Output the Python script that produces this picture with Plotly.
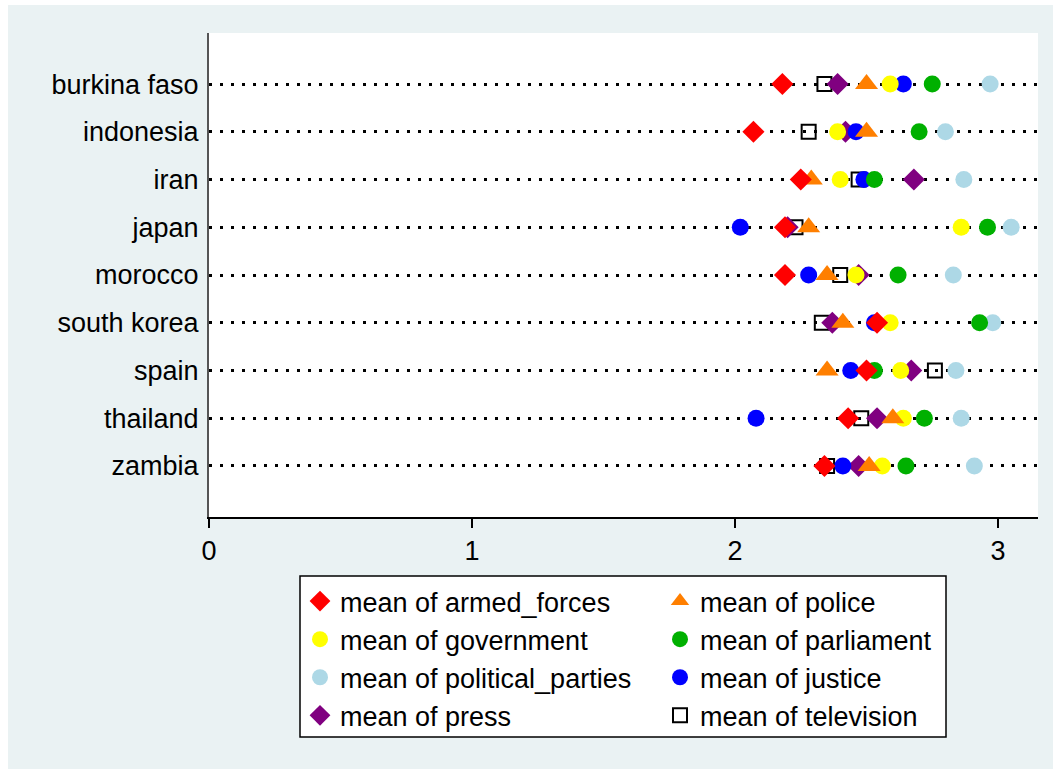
import plotly.graph_objects as go

# Countries, top to bottom
countries = ["burkina faso", "indonesia", "iran", "japan", "morocco",
             "south korea", "spain", "thailand", "zambia"]

# Mean confidence scores per institution
armed_forces = [2.18, 2.07, 2.25, 2.19, 2.19, 2.54, 2.50, 2.43, 2.34]
police = [2.50, 2.50, 2.29, 2.28, 2.35, 2.41, 2.35, 2.60, 2.51]
government = [2.59, 2.39, 2.40, 2.86, 2.46, 2.59, 2.63, 2.64, 2.56]
parliament = [2.75, 2.70, 2.53, 2.96, 2.62, 2.93, 2.53, 2.72, 2.65]
political_parties = [2.97, 2.80, 2.87, 3.05, 2.83, 2.98, 2.84, 2.86, 2.91]
justice = [2.64, 2.46, 2.49, 2.02, 2.28, 2.53, 2.44, 2.08, 2.41]
press = [2.39, 2.42, 2.68, 2.20, 2.47, 2.37, 2.67, 2.54, 2.47]
television = [2.34, 2.28, 2.47, 2.23, 2.40, 2.33, 2.76, 2.48, 2.35]

x_ticks = [0, 1, 2, 3]

FONT = "Liberation Sans, Arial, sans-serif"
FS = 27
BG = "#EAF2F3"

# (name, values, symbol, color, size, legend, rank) -- drawn in this order,
# so armed_forces ends up on top
series = [
    ("mean of television", television, "square-open", "black", 14, "legend2", 4),
    ("mean of press", press, "diamond", "#800080", 17, "legend", 4),
    ("mean of justice", justice, "circle", "#0000FF", 17, "legend2", 3),
    ("mean of political_parties", political_parties, "circle", "#ADD8E6", 17, "legend", 3),
    ("mean of parliament", parliament, "circle", "#00B000", 17, "legend2", 2),
    ("mean of government", government, "circle", "#FFFF00", 17, "legend", 2),
    ("mean of police", police, "triangle-up", "#FF7F00", 20, "legend2", 1),
    ("mean of armed_forces", armed_forces, "diamond", "#FF0000", 17, "legend", 1),
]

fig = go.Figure()
for name, vals, sym, col, size, leg, rank in series:
    marker = dict(symbol=sym, color=col, size=size, line=dict(width=0))
    if sym == "square-open":
        marker["line"] = dict(width=2, color=col)
    fig.add_trace(go.Scatter(
        x=vals, y=countries, mode="markers", name=name, marker=marker,
        legend=leg, legendrank=rank, cliponaxis=False,
    ))

# plot area in pixels
W, H = 1053, 769
L, R, T, B = 209, 1038, 33, 517
pw, ph = R - L, B - T


def px(xp):
    return (xp - L) / pw


def py(yp):
    return (B - yp) / ph


legend_common = dict(
    font=dict(family=FONT, size=FS, color="black"),
    bgcolor="rgba(0,0,0,0)", borderwidth=0,
    xanchor="left", yanchor="top", orientation="v",
    itemclick=False, itemdoubleclick=False,
)

fig.update_layout(
    width=W, height=H,
    margin=dict(l=L, r=W - R, t=T, b=H - B, pad=0),
    paper_bgcolor=BG, plot_bgcolor="white",
    font=dict(family=FONT, size=FS, color="black"),
    showlegend=True,
    legend=dict(x=px(300), y=py(577), **legend_common),
    legend2=dict(x=px(660), y=py(577), **legend_common),
    xaxis=dict(
        range=[0, 3.152], tickvals=x_ticks, ticktext=[str(t) for t in x_ticks],
        ticks="outside", ticklen=9, tickwidth=1.5, tickcolor="black",
        showline=True, linecolor="black", linewidth=1.5,
        showgrid=False, zeroline=False,
        tickfont=dict(family=FONT, size=FS, color="black"),
    ),
    yaxis=dict(
        type="category", categoryorder="array", categoryarray=countries,
        range=[len(countries) - 1 + 1.07, -1.07],
        ticks="", showline=True, linecolor="#555555", linewidth=2,
        showgrid=True, gridcolor="black", gridwidth=2.5, griddash="2.5px,8.5px",
        zeroline=False, ticklabelstandoff=3,
        tickfont=dict(family=FONT, size=FS, color="black"),
    ),
    shapes=[
        # white strips framing the outer background
        dict(type="rect", xref="paper", yref="paper", layer="below",
             x0=px(0), x1=px(W), y0=py(0), y1=py(5),
             fillcolor="white", line=dict(width=0)),
        dict(type="rect", xref="paper", yref="paper", layer="below",
             x0=px(0), x1=px(8), y0=py(0), y1=py(H),
             fillcolor="white", line=dict(width=0)),
        # legend frame
        dict(type="rect", xref="paper", yref="paper", layer="above",
             x0=px(300), x1=px(946), y0=py(576), y1=py(737),
             fillcolor="white", line=dict(width=1.5, color="black")),
    ],
)

fig.write_html("out.html")
